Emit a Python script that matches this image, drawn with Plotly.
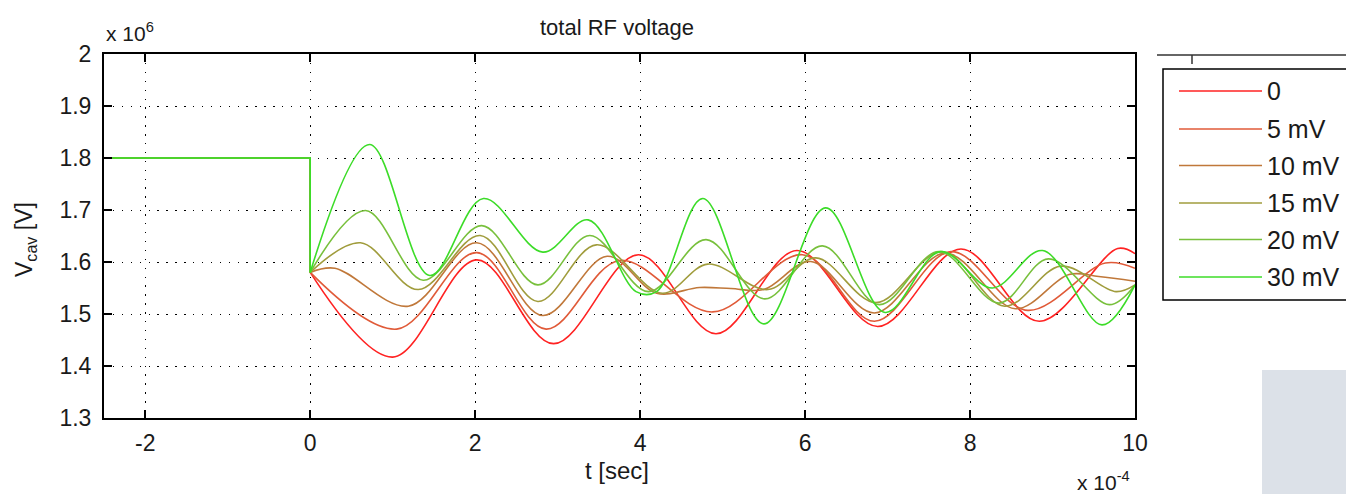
import plotly.graph_objects as go

# ---------------- data (t in units of 1e-4 s, V in units of 1e6 V) ----------------
series_names = ["0", "5 mV", "10 mV", "15 mV", "20 mV", "30 mV"]
series_colors = ["#FF2222", "#E05A38", "#C0783A", "#A09C3C", "#78C03C", "#3CDC28"]

t_pre = [-2.5, 0.0, 0.0]
v_pre = [1.80, 1.80, 1.58]

t_0mV = [0, 1.0, 2.02, 2.95, 3.98, 4.92, 5.9, 6.88, 7.89, 8.84, 9.79, 10]
v_0mV = [1.58, 1.417, 1.604, 1.443, 1.614, 1.462, 1.622, 1.476, 1.625, 1.486, 1.626, 1.616]

t_5mV = [0, 1.05, 2.02, 2.86, 3.75, 4.88, 5.97, 6.84, 7.77, 8.7, 9.64, 10]
v_5mV = [1.58, 1.471, 1.618, 1.471, 1.603, 1.504, 1.614, 1.486, 1.620, 1.507, 1.598, 1.588]

t_10mV = [0, 0.3, 1.19, 2.02, 2.82, 3.6, 4.2, 4.72, 5.1, 5.5, 6.07, 6.84, 7.7, 8.55, 9.2, 9.56, 10]
v_10mV = [1.58, 1.588, 1.515, 1.637, 1.497, 1.611, 1.540, 1.551, 1.549, 1.547, 1.601, 1.502, 1.617, 1.510, 1.576, 1.572, 1.563]

t_15mV = [0, 0.61, 1.31, 2.06, 2.76, 3.47, 4.27, 4.82, 5.55, 6.13, 6.86, 7.66, 8.42, 9.1, 9.77, 10]
v_15mV = [1.58, 1.637, 1.547, 1.651, 1.524, 1.633, 1.540, 1.596, 1.547, 1.608, 1.522, 1.620, 1.515, 1.592, 1.543, 1.556]

t_20mV = [0, 0.67, 1.37, 2.08, 2.76, 3.39, 4.1, 4.8, 5.51, 6.21, 6.9, 7.62, 8.35, 8.95, 9.69, 10]
v_20mV = [1.58, 1.699, 1.565, 1.670, 1.556, 1.651, 1.543, 1.643, 1.529, 1.631, 1.518, 1.620, 1.521, 1.606, 1.518, 1.556]

t_30mV = [0, 0.72, 1.45, 2.10, 2.82, 3.37, 3.95, 4.2, 4.76, 5.5, 6.25, 6.97, 7.64, 8.27, 8.88, 9.6, 10]
v_30mV = [1.58, 1.826, 1.574, 1.722, 1.619, 1.681, 1.543, 1.543, 1.722, 1.481, 1.704, 1.503, 1.620, 1.550, 1.622, 1.479, 1.556]

series_t = [t_0mV, t_5mV, t_10mV, t_15mV, t_20mV, t_30mV]
series_v = [v_0mV, v_5mV, v_10mV, v_15mV, v_20mV, v_30mV]

x_ticks = [-2, 0, 2, 4, 6, 8, 10]
x_ticktext = ["-2", "0", "2", "4", "6", "8", "10"]
y_ticks = [1.3, 1.4, 1.5, 1.6, 1.7, 1.8, 1.9, 2.0]
y_ticktext = ["1.3", "1.4", "1.5", "1.6", "1.7", "1.8", "1.9", "2"]

# ---------------- layout geometry (screen pixels) ----------------
WIN_W, WIN_H = 1354, 494
BODY = 8                     # default page margin around the plot div
W, H = WIN_W - BODY, WIN_H - BODY
PL, PR, PT, PB = 104, 1135, 54, 418   # plot area in screen pixels
FONT = "Liberation Sans, Arial, Helvetica, sans-serif"
TXT = "#1a1a1a"


def px(xp):
    return (xp - PL) / (PR - PL)


def py(yp):
    return 1 - (yp - PT) / (PB - PT)


fig = go.Figure()

for name, col, tt, vv in zip(series_names, series_colors, series_t, series_v):
    fig.add_trace(go.Scatter(x=t_pre, y=v_pre, mode="lines", showlegend=False,
                             line=dict(color=col, width=1.6), hoverinfo="skip"))
    fig.add_trace(go.Scatter(x=tt, y=vv, mode="lines", name=name, showlegend=False,
                             line=dict(color=col, width=1.6, shape="spline", smoothing=1.0)))

axis_common = dict(
    showline=True, linecolor="black", linewidth=2, mirror="ticks",
    ticks="inside", ticklen=8, tickwidth=2, tickcolor="black",
    showgrid=True, gridcolor="black", gridwidth=1.4, griddash="1.4px,7.5px",
    zeroline=False, tickfont=dict(family=FONT, size=23, color=TXT),
)

fig.update_xaxes(range=[-2.5, 10], tickvals=x_ticks, ticktext=x_ticktext,
                 ticklabelstandoff=3, **axis_common)
fig.update_yaxes(range=[1.3, 2.0], tickvals=y_ticks, ticktext=y_ticktext,
                 ticklabelstandoff=6, **axis_common)

shapes = []
annotations = []

# legend (drawn MATLAB-style with long line samples)
leg_left, leg_top, leg_bot = 1163, 69, 300
shapes.append(dict(type="rect", xref="paper", yref="paper",
                   x0=px(leg_left), x1=px(1400), y0=py(leg_bot), y1=py(leg_top),
                   line=dict(color="black", width=1.5), fillcolor="white", layer="above"))
leg_rows = [91, 129, 165.5, 203, 239.5, 277]
for name, col, yr in zip(series_names, series_colors, leg_rows):
    shapes.append(dict(type="line", xref="paper", yref="paper",
                       x0=px(1179), x1=px(1262), y0=py(yr), y1=py(yr),
                       line=dict(color=col, width=1.6), layer="above"))
    annotations.append(dict(xref="paper", yref="paper", x=px(1265), y=py(yr),
                            xanchor="left", yanchor="middle", showarrow=False,
                            text=name, font=dict(family=FONT, size=25, color=TXT)))

# pieces of a neighbouring axes frame at the right edge
shapes.append(dict(type="line", xref="paper", yref="paper", x0=px(1157), x1=px(1400),
                   y0=py(55), y1=py(55), line=dict(color="#333", width=1.5), layer="below"))
shapes.append(dict(type="line", xref="paper", yref="paper", x0=px(1192), x1=px(1192),
                   y0=py(55), y1=py(64), line=dict(color="#333", width=1.5), layer="below"))
shapes.append(dict(type="rect", xref="paper", yref="paper", x0=px(1262), x1=px(1400),
                   y0=py(520), y1=py(370), line=dict(width=0), fillcolor="#DCE1E8",
                   layer="below"))

# titles and multipliers
annotations += [
    dict(xref="paper", yref="paper", x=px(617), y=py(27), xanchor="center", yanchor="middle",
         showarrow=False, text="total RF voltage", font=dict(family=FONT, size=22, color=TXT)),
    dict(xref="paper", yref="paper", x=px(617), y=py(470), xanchor="center", yanchor="middle",
         showarrow=False, text="t [sec]", font=dict(family=FONT, size=24, color=TXT)),
    dict(xref="paper", yref="paper", x=px(25), y=py(240), xanchor="center", yanchor="middle",
         showarrow=False, textangle=-90, text="V<sub>cav</sub> [V]",
         font=dict(family=FONT, size=23, color=TXT)),
    dict(xref="paper", yref="paper", x=px(104), y=py(32), xanchor="left", yanchor="middle",
         showarrow=False, text="x 10<sup>6</sup>", font=dict(family=FONT, size=21, color=TXT)),
    dict(xref="paper", yref="paper", x=px(1075), y=py(481), xanchor="left", yanchor="middle",
         showarrow=False, text="x 10<sup>-4</sup>", font=dict(family=FONT, size=21, color=TXT)),
]

fig.update_layout(
    width=W, height=H,
    margin=dict(l=PL - BODY, r=WIN_W - PR, t=PT - BODY, b=WIN_H - PB, pad=0),
    paper_bgcolor="white", plot_bgcolor="white",
    showlegend=False,
    shapes=shapes, annotations=annotations,
    font=dict(family=FONT, color=TXT),
)

fig.write_html("out.html")
